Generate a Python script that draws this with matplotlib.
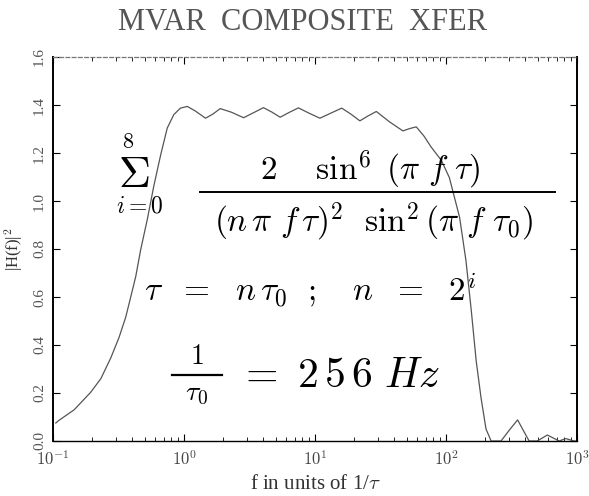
import matplotlib
matplotlib.use("Agg")
import matplotlib.pyplot as plt
from matplotlib.lines import Line2D
from matplotlib.ticker import LogLocator, NullFormatter

# composite transfer function
freq = [0.105, 0.111, 0.145, 0.194, 0.232, 0.276, 0.319, 0.359, 0.392, 0.428,
        0.467, 0.525, 0.589, 0.663, 0.745, 0.836, 0.94, 1.06, 1.22, 1.46,
        1.66, 1.89, 2.3, 2.85, 3.4, 4.04, 4.7, 5.42, 6.4, 7.47,
        9.0, 10.9, 13.2, 16.0, 18.8, 22.0, 25.5, 29.4, 37.0, 46.9,
        53.0, 59.3, 68.0, 77.0, 92.0, 106, 127, 142, 156, 170,
        185, 202, 221, 263, 304, 352, 384, 431, 497, 594,
        730, 821, 949, 1000]
h2 = [0.075, 0.086, 0.130, 0.203, 0.260, 0.346, 0.431, 0.516, 0.600, 0.685,
      0.797, 0.924, 1.064, 1.191, 1.304, 1.360, 1.387, 1.394, 1.375, 1.345,
      1.362, 1.385, 1.370, 1.347, 1.368, 1.389, 1.370, 1.349, 1.370, 1.388,
      1.366, 1.345, 1.366, 1.387, 1.362, 1.334, 1.355, 1.373, 1.330, 1.292,
      1.302, 1.309, 1.270, 1.225, 1.170, 1.098, 0.932, 0.752, 0.543, 0.334,
      0.181, 0.050, 0.0, 0.0, 0.045, 0.088, 0.050, 0.0, 0.0, 0.025,
      0.0, 0.010, 0.0, 0.0]

yticks = [0.0, 0.2, 0.4, 0.6, 0.8, 1.0, 1.2, 1.4, 1.6]
xticks = [0.1, 1, 10, 100, 1000]
xtick_labels = [r'$10^{-1}$', r'$10^{0}$', r'$10^{1}$', r'$10^{2}$', r'$10^{3}$']

plt.rcParams['font.family'] = 'Liberation Serif'
plt.rcParams['mathtext.fontset'] = 'cm'

W, H = 589, 496
fig = plt.figure(figsize=(W / 100, H / 100), dpi=100)
ax = fig.add_axes([53 / W, 1 - 441 / H, 524 / W, 384 / H])

ax.plot(freq, h2, color='#555555', lw=0.9)
ax.set_xscale('log')
ax.set_xlim(0.1, 1000)
ax.set_ylim(0, 1.6)

ax.set_xticks(xticks)
ax.set_xticklabels(xtick_labels, fontsize=12, color='#444444')
ax.xaxis.set_minor_locator(LogLocator(base=10, subs=range(2, 10)))
ax.xaxis.set_minor_formatter(NullFormatter())
ax.set_yticks(yticks)
ax.set_yticklabels(['%.1f' % v for v in yticks], rotation=90, va='center',
                   fontsize=11, color='#555555')
ax.tick_params(which='both', direction='in', top=True, right=True)
ax.tick_params(which='major', length=5, width=0.8)
ax.tick_params(which='minor', length=3, width=0.6)
ax.tick_params(axis='y', pad=5)
ax.tick_params(axis='x', pad=7)

for side in ('left', 'right'):
    ax.spines[side].set_linewidth(1.4)
ax.spines['bottom'].set_linewidth(1.0)
ax.spines['top'].set_linewidth(0.9)
ax.spines['top'].set_linestyle((0, (3, 2)))
ax.spines['top'].set_color('#777777')

ax.set_xlabel(r'f in units of 1/$\tau$', fontsize=15, color='#333333', labelpad=4)
ax.set_ylabel(r'|H(f)|$^2$', fontsize=12, color='#333333', labelpad=6)
fig.text(302 / W, 1 - 22 / H, 'MVAR  COMPOSITE  XFER', ha='center', va='center',
         fontsize=22, color='#555555')


def px(x, y):
    return x / W, 1 - y / H


# hand-written formula on the plot
ink = dict(color='black', ha='center', va='center')
fig.text(*px(128, 144), r'$8$', fontsize=16, **ink)
fig.text(*px(134, 176), r'$\Sigma$', fontsize=32, **ink)
fig.text(*px(140, 207), r'$i = 0$', fontsize=17, **ink)
fig.text(*px(370, 170), r'$2\ \ \ \ \sin^6\ (\pi\,\, f\,\, \tau)$', fontsize=24, **ink)
fig.add_artist(Line2D([200 / W, 555 / W], [1 - 192 / H, 1 - 192 / H],
                      color='black', lw=1.4))
fig.text(*px(373, 222), r'$(n\,\pi\,\,f\,\tau)^2\ \ \sin^2(\pi\,\,f\,\,\tau_0)$',
         fontsize=24, **ink)
fig.text(*px(310, 290), r'$\tau\ \ =\ \ n\,\tau_0\ \ ;\quad n\ \ =\ \ 2^i$', fontsize=24, **ink)
fig.text(*px(197, 358), r'$1$', fontsize=20, **ink)
fig.add_artist(Line2D([172 / W, 222 / W], [1 - 375 / H, 1 - 375 / H],
                      color='black', lw=1.6))
fig.text(*px(197, 395), r'$\tau_0$', fontsize=20, **ink)
fig.text(*px(238, 377), r'$=\ 2\,5\,6\ Hz$', fontsize=30, color='black',
         ha='left', va='center')

fig.savefig('out.png', dpi=100)
